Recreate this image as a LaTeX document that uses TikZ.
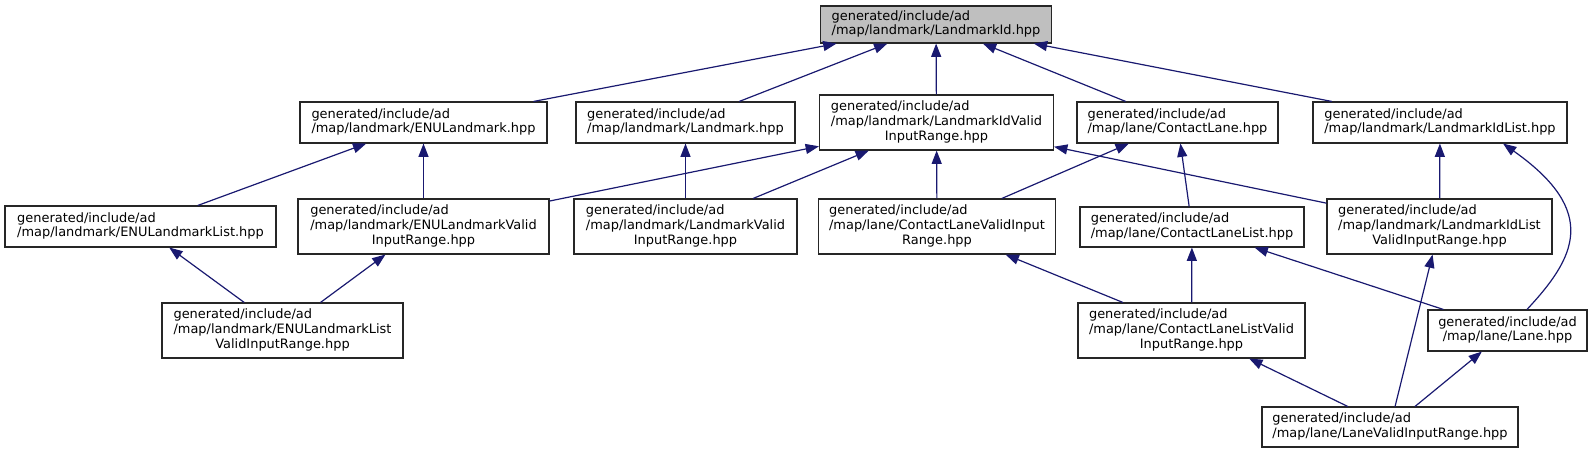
\documentclass[tikz,border=0pt]{standalone}
\usepackage{fontspec}
\setmainfont{DejaVu Sans}
\usetikzlibrary{arrows.meta}
\definecolor{midnight}{HTML}{191970}
\definecolor{rootgray}{HTML}{BFBFBF}
\newcommand{\twol}[2]{\begin{tabular}{@{}l@{}}#1\\\multicolumn{1}{@{}c@{}}{#2}\end{tabular}}
\newcommand{\threel}[3]{\begin{tabular}{@{}l@{}}#1\\#2\\\multicolumn{1}{@{}c@{}}{#3}\end{tabular}}
\tikzset{
  filebox/.style={draw=black!85, line width=0.8pt, rectangle, inner sep=0pt, fill=white,
    font=\fontsize{9.7}{11.2}\selectfont},
  bw/.style={minimum width=#1*0.75pt},
  bh/.style={minimum height=#1*0.75pt},
  rootbox/.style={filebox, fill=rootgray},
  dep/.style={draw=midnight, line width=0.9pt, -{Triangle[length=10pt,width=7.5pt]}}
}
\begin{document}
\begin{tikzpicture}[x=0.75pt,y=-0.75pt]
\useasboundingbox (0,0) rectangle (1593,453);
% layer 0
\node[rootbox,bw=231,bh=37] (LId) at (936,24.5) {\twol{generated/include/ad}{/map/landmark/LandmarkId.hpp}};
% layer 1
\node[filebox,bw=247,bh=41] (ENUL) at (423.5,122.5) {\twol{generated/include/ad}{/map/landmark/ENULandmark.hpp}};
\node[filebox,bw=219,bh=41] (Lmk) at (685.5,122.5) {\twol{generated/include/ad}{/map/landmark/Landmark.hpp}};
\node[filebox,bw=234,bh=55] (LIVIR) at (936.5,122.5) {\threel{generated/include/ad}{/map/landmark/LandmarkIdValid}{InputRange.hpp}};
\node[filebox,bw=201,bh=41] (CL) at (1177.5,122.5) {\twol{generated/include/ad}{/map/lane/ContactLane.hpp}};
\node[filebox,bw=254,bh=41] (LIList) at (1440,122.5) {\twol{generated/include/ad}{/map/landmark/LandmarkIdList.hpp}};
% layer 2
\node[filebox,bw=271,bh=41] (ENULList) at (140.5,226.5) {\twol{generated/include/ad}{/map/landmark/ENULandmarkList.hpp}};
\node[filebox,bw=251,bh=55] (ENULVIR) at (423.5,226.5) {\threel{generated/include/ad}{/map/landmark/ENULandmarkValid}{InputRange.hpp}};
\node[filebox,bw=223,bh=55] (LmkVIR) at (685.5,226.5) {\threel{generated/include/ad}{/map/landmark/LandmarkValid}{InputRange.hpp}};
\node[filebox,bw=237,bh=55] (CLVIR) at (937,226.5) {\threel{generated/include/ad}{/map/lane/ContactLaneValidInput}{Range.hpp}};
\node[filebox,bw=224,bh=40] (CLList) at (1192,227) {\twol{generated/include/ad}{/map/lane/ContactLaneList.hpp}};
\node[filebox,bw=225,bh=55] (LIListVIR) at (1439.5,226.5) {\threel{generated/include/ad}{/map/landmark/LandmarkIdList}{ValidInputRange.hpp}};
% layer 3
\node[filebox,bw=241,bh=55] (ENULLVIR) at (282.5,330.5) {\threel{generated/include/ad}{/map/landmark/ENULandmarkList}{ValidInputRange.hpp}};
\node[filebox,bw=227,bh=55] (CLLVIR) at (1191.5,330.5) {\threel{generated/include/ad}{/map/lane/ContactLaneListValid}{InputRange.hpp}};
\node[filebox,bw=159,bh=41] (Lane) at (1507.5,330.5) {\twol{generated/include/ad}{/map/lane/Lane.hpp}};
% layer 4
\node[filebox,bw=256,bh=40] (LaneVIR) at (1390,427) {\twol{generated/include/ad}{/map/lane/LaneValidInputRange.hpp}};
% edges
\draw[dep] (ENUL) -- (LId);
\draw[dep] (Lmk) -- (LId);
\draw[dep] (LIVIR) -- (LId);
\draw[dep] (CL) -- (LId);
\draw[dep] (LIList) -- (LId);
\draw[dep] (ENULList) -- (ENUL);
\draw[dep] (ENULVIR) -- (ENUL);
\draw[dep] (ENULVIR) -- (LIVIR);
\draw[dep] (LmkVIR) -- (Lmk);
\draw[dep] (LmkVIR) -- (LIVIR);
\draw[dep] (CLVIR) -- (LIVIR);
\draw[dep] (CLVIR) -- (CL);
\draw[dep] (CLList) -- (CL);
\draw[dep] (LIListVIR) -- (LIVIR);
\draw[dep] (LIListVIR) -- (LIList);
\draw[dep] ([xshift=14.6pt]Lane.north) .. controls (1575,258) and (1600,212) .. ([xshift=47.25pt]LIList.south);
\draw[dep] (Lane) -- (CLList);
\draw[dep] (ENULLVIR) -- (ENULList);
\draw[dep] (ENULLVIR) -- (ENULVIR);
\draw[dep] (CLLVIR) -- (CLVIR);
\draw[dep] (CLLVIR) -- (CLList);
\draw[dep] (LaneVIR) -- (CLLVIR);
\draw[dep] (LaneVIR) -- (LIListVIR);
\draw[dep] (LaneVIR) -- (Lane);
\end{tikzpicture}
\end{document}
